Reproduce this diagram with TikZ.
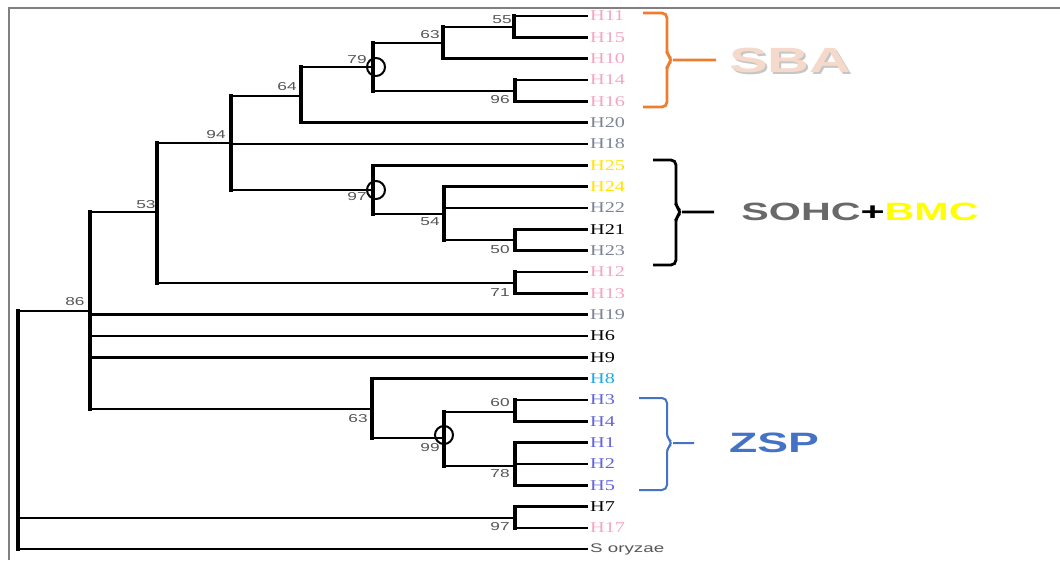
\documentclass[tikz,border=0pt]{standalone}
\usepackage{fontspec}
\setmainfont{Liberation Serif}
\newfontfamily\leaffont[FakeStretch=1.35]{Liberation Serif}
\newfontfamily\bootfont[FakeStretch=1.5]{Liberation Sans}
\newfontfamily\groupfont[FakeStretch=1.65]{Liberation Sans}
\usepackage{xcolor}
\usetikzlibrary{positioning}
\definecolor{pinkleaf}{RGB}{245,165,195}
\definecolor{grayleaf}{RGB}{125,132,148}
\definecolor{yellowleaf}{RGB}{255,228,0}
\definecolor{skyleaf}{RGB}{30,170,230}
\definecolor{violetleaf}{RGB}{100,100,220}
\definecolor{bootgray}{RGB}{85,85,85}
\definecolor{sbapeach}{RGB}{245,217,202}
\definecolor{sohcgray}{RGB}{105,105,105}
\definecolor{bmcyellow}{RGB}{255,255,0}
\definecolor{zspblue}{RGB}{68,114,196}
\definecolor{braceorange}{RGB}{237,125,49}

\begin{document}
\begin{tikzpicture}[x=1pt,y=-1pt,
  hbar/.style={line width=2.6pt, black},
  vbar/.style={line width=3.6pt, black, line cap=rect},
  leaf/.style={font=\leaffont\fontsize{15}{15}\selectfont, inner sep=2pt},
  boot/.style={font=\bootfont\fontsize{11.5}{11.5}\selectfont, text=bootgray, inner sep=0pt},
  ring/.style={line width=2pt, black},
  brace/.style={line width=2.8pt, rounded corners=5pt},
  grp/.style={font=\groupfont\bfseries\fontsize{#1}{#1}\selectfont, inner sep=0pt}]

\useasboundingbox (0,0) rectangle (1060,560);

% frame
\draw[gray, line width=1.2pt] (9,560) -- (9,8) -- (1060,8);

% leaves
\foreach \nm/\col [count=\k from 0] in {H11/pinkleaf, H15/pinkleaf, H10/pinkleaf,
    H14/pinkleaf, H16/pinkleaf, H20/grayleaf, H18/grayleaf, H25/yellowleaf,
    H24/yellowleaf, H22/grayleaf, H21/black, H23/grayleaf, H12/pinkleaf,
    H13/pinkleaf, H19/grayleaf, H6/black, H9/black, H8/skyleaf, H3/violetleaf,
    H4/violetleaf, H1/violetleaf, H2/violetleaf, H5/violetleaf, H7/black,
    H17/pinkleaf} {
  \coordinate (t\nm) at (588,{16+21.33*\k});
  \node[leaf, text=\col, right=0pt of t\nm] (\nm) {\nm};
}
\coordinate (tSory) at (588,549);
\node[leaf, font=\bootfont\fontsize{12.5}{12.5}\selectfont, text=bootgray,
  right=0pt of tSory] (Sory) {S oryzae};

% internal nodes
\coordinate (root) at (18,312);
\coordinate (n86) at (90,311);
\coordinate (n53) at (157,212);
\coordinate (n94) at (231,143);
\coordinate (n64) at (301,96);
\coordinate (n79) at (373,67);
\coordinate (n63a) at (443,43);
\coordinate (n55) at (514,27);
\coordinate (n96) at (515,91);
\coordinate (n97a) at (373,190);
\coordinate (n54) at (444,214);
\coordinate (n50) at (515,240);
\coordinate (n71) at (515,283);
\coordinate (n63b) at (372,409);
\coordinate (n99) at (444,438);
\coordinate (n60) at (515,412);
\coordinate (n78) at (515,466);
\coordinate (n97b) at (515,518);

% branches
\foreach \p/\c in {root/n86, root/n97b, root/tSory,
    n86/n53, n86/tH19, n86/tH6, n86/tH9, n86/n63b,
    n53/n94, n53/n71, n94/n64, n94/tH18, n94/n97a,
    n64/n79, n64/tH20, n79/n63a, n79/n96,
    n63a/n55, n63a/tH10, n55/tH11, n55/tH15, n96/tH14, n96/tH16,
    n97a/tH25, n97a/n54, n54/tH24, n54/tH22, n54/n50,
    n50/tH21, n50/tH23, n71/tH12, n71/tH13,
    n63b/tH8, n63b/n99, n99/n60, n99/n78,
    n60/tH3, n60/tH4, n78/tH1, n78/tH2, n78/tH5,
    n97b/tH7, n97b/tH17} {
  \draw[vbar] (\p) -- (\p |- \c);
  \draw[hbar] (\p |- \c) -- (\c);
}

% bootstrap values
\foreach \nd/\val/\dx/\dy in {n86/86/-15/-9, n53/53/-11/-7, n94/94/-15/-8,
    n64/64/-14/-9, n79/79/-16/-7, n63a/63/-13/-8, n55/55/-12/-7,
    n96/96/-15/9, n97a/97/-16/7, n54/54/-14/8, n50/50/-15/10,
    n71/71/-15/10, n63b/63/-14/10, n99/99/-14/10, n60/60/-15/-9,
    n78/78/-15/8, n97b/97/-15/9}
  \node[boot] (b\nd) at ([shift={(\dx,\dy)}]\nd) {\val};

% marked nodes
\foreach \nd/\dx/\dy in {n79/3/0, n97a/3/0, n99/0/-3}
  \draw[ring] ([shift={(\dx,\dy)}]\nd) ellipse [x radius=9pt, y radius=9pt];

% group braces
\draw[brace, braceorange] (643,13) -- (667,13) -- (667,55) -- (673,60)
  -- (667,65) -- (667,107) -- (643,107) (673,60) -- (716,60);
\draw[brace, black] (653,160) -- (676,160) -- (676,207) -- (682,212)
  -- (676,217) -- (676,265) -- (653,265) (682,212) -- (714,212);
\draw[brace, zspblue, line width=2pt] (639,398) -- (667,398) -- (667,438)
  -- (673,443) -- (667,448) -- (667,490) -- (639,490) (673,443) -- (694,443);

% group names
\node[grp=35, text=gray!45] (sbashadow) at (792,62) {SBA};
\node[grp=35, text=sbapeach] (sba) at (790,60) {SBA};
\node[grp=25] (sohc) at (860,212)
  {\color{sohcgray}SOHC\color{black}+\color{bmcyellow}BMC};
\node[grp=28, text=zspblue] (zsp) at (774,443) {ZSP};

\end{tikzpicture}
\end{document}
